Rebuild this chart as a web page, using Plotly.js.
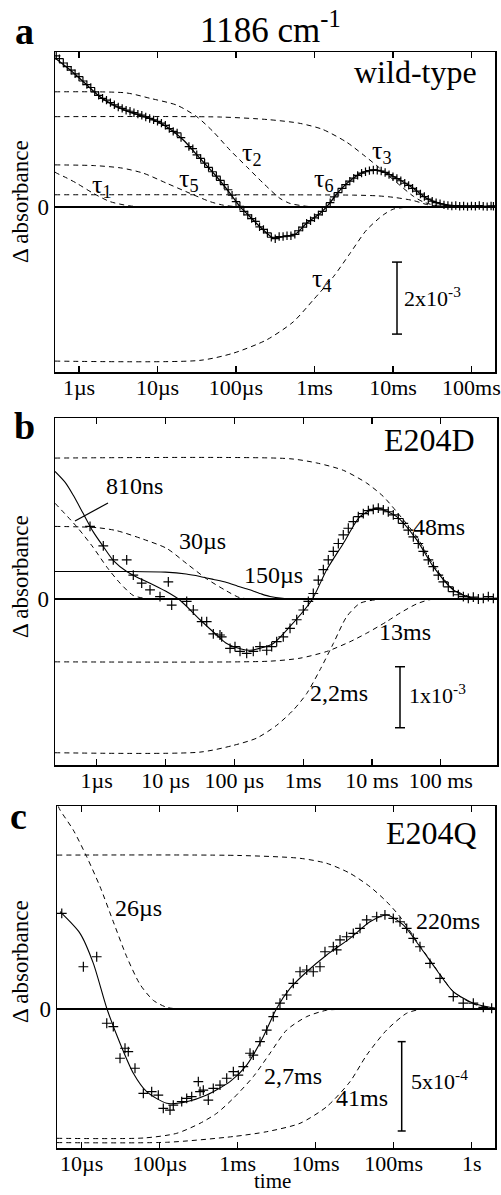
<!DOCTYPE html>
<html>
<head>
<meta charset="utf-8">
<script src="https://cdn.plot.ly/plotly-3.0.1.min.js"></script>
<style>html,body{margin:0;padding:0;background:#fff;}#chart{width:501px;height:1195px;}</style>
</head>
<body>
<div id="chart"></div>
<script>
// ---------- Panel a (wild-type), time as log10(seconds), values in 1e-3 ----------
const aTickVals = [1e-6, 1e-5, 1e-4, 1e-3, 1e-2, 1e-1];
const aTickText = ['1µs', '10µs', '100µs', '1ms', '10ms', '100ms'];
const aFitLogT = [-6.306,-6.115,-5.945,-5.732,-5.520,-5.308,-5.096,-4.883,-4.671,-4.459,-4.246,-4.076,-3.949,-3.822,-3.694,-3.58,-3.525,-3.397,-3.248,-3.1,-2.930,-2.824,-2.675,-2.506,-2.357,-2.229,-2.080,-1.911,-1.741,-1.571,-1.401,-1.189,-0.934,-0.70];
const aFitVal  = [4.14,3.81,3.48,3.06,2.79,2.60,2.46,2.23,1.86,1.35,0.84,0.38,0.01,-0.27,-0.55,-0.78,-0.86,-0.82,-0.76,-0.45,-0.18,0.06,0.47,0.80,0.98,1.03,0.94,0.75,0.52,0.24,0.10,0.03,0.02,0.02];
const aDataLogT = [-6.29,-6.25,-6.2,-6.15,-6.1,-6.05,-6.0,-5.95,-5.9,-5.85,-5.8,-5.75,-5.7,-5.65,-5.6,-5.55,-5.5,-5.45,-5.4,-5.35,-5.3,-5.25,-5.2,-5.15,-5.1,-5.05,-5.0,-4.95,-4.9,-4.85,-4.8,-4.75,-4.7,-4.6,-4.55,-4.5,-4.45,-4.4,-4.35,-4.3,-4.25,-4.2,-4.15,-4.1,-4.05,-4.0,-3.95,-3.9,-3.85,-3.8,-3.75,-3.7,-3.65,-3.6,-3.55,-3.5,-3.45,-3.4,-3.35,-3.3,-3.25,-3.2,-3.15,-3.1,-3.05,-3.0,-2.95,-2.9,-2.85,-2.8,-2.75,-2.7,-2.65,-2.6,-2.55,-2.5,-2.45,-2.4,-2.35,-2.3,-2.25,-2.2,-2.15,-2.1,-2.05,-2.0,-1.95,-1.9,-1.85,-1.8,-1.75,-1.7,-1.65,-1.6,-1.55,-1.5,-1.45,-1.4,-1.35,-1.3,-1.25,-1.2,-1.15,-1.1,-1.05,-1.0,-0.95,-0.9,-0.85,-0.8,-0.75,-0.72];
const aDataVal  = [4.20,4.12,4.00,3.90,3.80,3.70,3.62,3.50,3.40,3.32,3.20,3.10,3.02,2.97,2.90,2.84,2.78,2.74,2.69,2.66,2.62,2.58,2.55,2.50,2.46,2.42,2.38,2.33,2.27,2.18,2.10,2.06,1.93,1.68,1.62,1.45,1.35,1.22,1.10,0.98,0.86,0.74,0.62,0.48,0.33,0.15,0.02,-0.12,-0.22,-0.32,-0.40,-0.55,-0.62,-0.72,-0.84,-0.88,-0.82,-0.82,-0.80,-0.80,-0.76,-0.66,-0.56,-0.45,-0.38,-0.30,-0.22,-0.12,0.0,0.12,0.28,0.40,0.52,0.62,0.72,0.80,0.88,0.94,0.98,1.01,1.03,1.02,1.00,0.96,0.90,0.84,0.79,0.73,0.66,0.60,0.52,0.44,0.36,0.29,0.22,0.16,0.12,0.09,0.06,0.04,0.03,0.04,0.02,0.03,0.01,0.03,0.02,0.04,0.02,0.01,0.03,0.02];
const aTau1LogT = [-6.306,-6.284,-6.15,-6.03,-5.818,-5.605,-5.35,-5.1];
const aTau1Val  = [0.97,0.94,0.80,0.66,0.38,0.15,0.03,0];
const aTau5LogT = [-6.306,-5.8,-5.45,-5.181,-4.883,-4.586,-4.331,-4.16,-3.95];
const aTau5Val  = [1.17,1.15,1.08,0.94,0.66,0.38,0.15,0.05,0];
const aTau2LogT = [-6.306,-5.4,-5.096,-4.755,-4.5,-4.289,-4.076,-3.864,-3.652,-3.44,-3.312,-3.1,-2.9];
const aTau2Val  = [3.20,3.17,3.02,2.83,2.51,2.09,1.58,1.12,0.66,0.24,0.10,0.02,0];
const aTau3LogT = [-6.306,-4.2,-3.6,-3.2,-2.9,-2.59,-2.378,-2.207,-1.953,-1.741,-1.614,-1.45,-1.2];
const aTau3Val  = [2.51,2.50,2.43,2.33,2.16,1.80,1.45,1.15,0.68,0.30,0.14,0.04,0];
const aTau6LogT = [-6.306,-2.5,-2.2,-1.996,-1.741,-1.571,-1.4,-1.2];
const aTau6Val  = [0.34,0.33,0.31,0.27,0.18,0.07,0.01,0];
const aTau4LogT = [-6.306,-4.459,-4.034,-3.609,-3.270,-3.015,-2.760,-2.548,-2.337,-2.124,-1.996,-1.8,-1.6];
const aTau4Val  = [-4.28,-4.26,-4.06,-3.69,-3.19,-2.58,-1.94,-1.29,-0.64,-0.22,-0.06,0,0];

// ---------- Panel b (E204D), values in 1e-3 ----------
const bTickVals = [1e-6, 1e-5, 1e-4, 1e-3, 1e-2, 1e-1];
const bTickText = ['1µs', '10 µs', '100 µs', '1ms', '10 ms', '100 ms'];
const bFitLogT = [-6.606,-6.45,-6.34,-6.195,-6.05,-5.904,-5.75,-5.564,-5.40,-5.225,-5.0,-4.789,-4.498,-4.256,-4.11,-3.90,-3.776,-3.6,-3.433,-3.19,-2.875,-2.657,-2.416,-2.173,-1.93,-1.64,-1.349,-1.108,-0.817,-0.526,-0.186];
const bFitVal  = [2.09,1.90,1.70,1.40,1.10,0.86,0.62,0.45,0.35,0.26,0.13,-0.02,-0.34,-0.59,-0.73,-0.82,-0.84,-0.80,-0.73,-0.45,-0.02,0.48,0.91,1.35,1.49,1.35,0.97,0.53,0.15,0.01,0.01];
const bDataLogT = [-6.097,-5.904,-5.759,-5.564,-5.468,-5.346,-5.225,-5.080,-4.959,-4.910,-4.692,-4.596,-4.474,-4.401,-4.305,-4.208,-4.183,-4.062,-3.990,-3.917,-3.820,-3.724,-3.627,-3.529,-3.457,-3.384,-3.288,-3.190,-3.093,-2.997,-2.924,-2.852,-2.779,-2.706,-2.634,-2.561,-2.488,-2.416,-2.343,-2.270,-2.198,-2.125,-2.052,-1.980,-1.907,-1.834,-1.762,-1.689,-1.616,-1.544,-1.471,-1.398,-1.326,-1.253,-1.180,-1.107,-1.035,-0.962,-0.890,-0.817,-0.744,-0.671,-0.599,-0.526,-0.453,-0.381,-0.308,-0.235];
const bDataVal  = [1.19,0.87,0.64,0.64,0.39,0.26,0.15,0.04,0.28,-0.10,-0.04,-0.18,-0.37,-0.37,-0.57,-0.59,-0.62,-0.81,-0.78,-0.86,-0.89,-0.86,-0.78,-0.84,-0.78,-0.70,-0.62,-0.48,-0.34,-0.18,-0.04,0.09,0.31,0.48,0.64,0.78,0.91,1.05,1.16,1.27,1.35,1.40,1.45,1.47,1.49,1.46,1.43,1.38,1.32,1.24,1.13,1.02,0.91,0.78,0.64,0.53,0.39,0.28,0.20,0.12,0.07,0.04,0.01,0.03,0.0,0.01,0.04,0.01];
const b810LogT = [-6.606,-6.286,-6.054,-5.850,-5.661,-5.472,-5.3,-5.1];
const b810Val  = [1.57,1.18,0.85,0.52,0.26,0.06,0.01,0];
const b30LogT  = [-6.606,-6.0,-5.709,-5.323,-4.983,-4.692,-4.401,-4.11,-3.917,-3.7];
const b30Val   = [1.19,1.17,1.12,0.98,0.83,0.58,0.33,0.13,0.02,0];
const b150LogT = [-6.606,-5.5,-5.0,-4.7,-4.498,-4.3,-4.110,-3.95,-3.776,-3.6,-3.481,-3.3,-3.1];
const b150Val  = [0.45,0.45,0.44,0.41,0.37,0.32,0.27,0.21,0.15,0.08,0.04,0.01,0];
const b13LogT  = [-6.606,-3.5,-3.045,-2.657,-2.318,-2.076,-1.785,-1.591,-1.349,-1.155,-0.9];
const b13Val   = [-1.03,-1.02,-0.97,-0.86,-0.70,-0.56,-0.37,-0.23,-0.08,-0.01,0];
const b22LogT  = [-6.606,-4.5,-4.015,-3.674,-3.384,-3.142,-2.948,-2.754,-2.561,-2.367,-2.173,-1.93,-1.7];
const b22Val   = [-2.52,-2.51,-2.40,-2.28,-2.07,-1.82,-1.55,-1.16,-0.73,-0.29,-0.07,-0.01,0];
const b48LogT  = [-6.606,-3.2,-2.802,-2.416,-2.076,-1.834,-1.640,-1.349,-1.108,-0.817,-0.526,-0.186];
const b48Val   = [2.31,2.30,2.23,2.11,1.90,1.68,1.43,1.02,0.56,0.16,0.02,0];

// ---------- Panel c (E204Q), values in 1e-4 ----------
const cTickVals = [1e-5, 1e-4, 1e-3, 1e-2, 1e-1, 1];
const cTickText = ['10µs', '100µs', '1ms', '10ms', '100ms', '1s'];
const cFitLogT = [-5.278,-5.022,-4.851,-4.679,-4.509,-4.338,-4.167,-3.910,-3.654,-3.397,-3.099,-2.885,-2.672,-2.5,-2.329,-2.115,-1.859,-1.560,-1.304,-1.090,-0.877,-0.663,-0.449,-0.236,0.021,0.299];
const cFitVal  = [5.46,4.25,2.57,0.06,-1.90,-3.58,-4.61,-5.26,-5.17,-4.80,-4.05,-3.12,-1.53,0.06,1.17,2.10,3.04,3.97,4.90,5.28,4.72,3.50,2.20,0.99,0.34,0.06];
const cDataLogT = [-5.256,-4.979,-4.808,-4.679,-4.595,-4.509,-4.445,-4.403,-4.317,-4.210,-4.103,-4.018,-3.954,-3.868,-3.826,-3.718,-3.654,-3.590,-3.505,-3.483,-3.441,-3.377,-3.313,-3.227,-3.141,-3.056,-2.992,-2.928,-2.842,-2.800,-2.714,-2.628,-2.544,-2.458,-2.372,-2.287,-2.201,-2.115,-2.031,-1.945,-1.881,-1.774,-1.731,-1.688,-1.603,-1.518,-1.432,-1.346,-1.218,-1.112,-1.005,-0.919,-0.833,-0.749,-0.663,-0.535,-0.406,-0.236,-0.108,0.021,0.149,0.256];
const cDataVal  = [5.37,2.38,2.94,-0.78,-0.97,-2.74,-2.18,-2.37,-3.30,-4.70,-4.61,-4.80,-5.54,-5.64,-5.36,-5.17,-4.98,-4.89,-4.05,-4.61,-4.52,-5.08,-4.42,-4.24,-3.86,-3.49,-3.68,-3.21,-2.46,-2.56,-1.81,-1.16,-0.41,0.34,0.80,1.45,2.10,2.20,2.10,2.38,3.22,3.50,3.32,3.88,4.06,4.25,4.53,5.00,5.18,5.28,5.09,4.90,4.53,3.97,3.50,2.57,1.73,0.71,0.34,0.34,0.11,0.06];
const c26LogT  = [-5.30,-5.278,-5.108,-4.936,-4.765,-4.595,-4.423,-4.253,-4.082,-3.910,-3.74,-3.5];
const c26Val   = [11.35,11.15,10.03,8.54,6.86,4.9,2.94,1.40,0.50,0.11,0.01,0];
const c220LogT = [-5.317,-3.0,-2.201,-1.859,-1.56,-1.304,-1.09,-0.919,-0.663,-0.449,-0.236,0.021,0.299];
const c220Val  = [8.63,8.61,8.45,8.17,7.61,6.86,6.02,5.18,3.55,2.22,1.0,0.3,0.05];
const c27LogT  = [-5.317,-4.2,-3.782,-3.483,-3.269,-3.056,-2.8,-2.586,-2.372,-2.115,-1.859,-1.645,-1.4];
const c27Val   = [-7.22,-7.20,-6.94,-6.38,-5.82,-4.98,-3.77,-2.46,-1.16,-0.41,-0.05,0,0];
const c41LogT  = [-5.317,-3.9,-3.056,-2.628,-2.201,-1.859,-1.56,-1.346,-1.09,-0.833,-0.663,-0.45];
const c41Val   = [-7.46,-7.44,-7.12,-6.85,-6.38,-5.45,-4.05,-2.56,-1.16,-0.22,-0.01,0];

// ---------- helpers ----------
const F = 'Liberation Serif, Times New Roman, serif';
const W = 501, H = 1195;
const toT = lg => lg.map(v => Math.pow(10, v));
function curve(lg, val, xa, ya, dash, width) {
  return {x: toT(lg), y: val, xaxis: xa, yaxis: ya, mode: 'lines', hoverinfo: 'skip',
    line: {color: 'black', width: width || 1, dash: dash || 'solid', shape: 'spline', smoothing: 0.7}};
}
function pts(lg, val, xa, ya, size) {
  return {x: toT(lg), y: val, xaxis: xa, yaxis: ya, mode: 'markers', hoverinfo: 'skip',
    marker: {symbol: 'cross-thin', size: size, color: 'black', line: {color: 'black', width: 1.2}}};
}
const D = '5px,4px';
const traces = [
  curve(aTau1LogT, aTau1Val, 'x', 'y', D), curve(aTau5LogT, aTau5Val, 'x', 'y', D),
  curve(aTau2LogT, aTau2Val, 'x', 'y', D), curve(aTau3LogT, aTau3Val, 'x', 'y', D),
  curve(aTau6LogT, aTau6Val, 'x', 'y', D), curve(aTau4LogT, aTau4Val, 'x', 'y', D),
  curve(aFitLogT, aFitVal, 'x', 'y', 'solid', 1.3), pts(aDataLogT, aDataVal, 'x', 'y', 6),

  curve(b810LogT, b810Val, 'x2', 'y2', D), curve(b30LogT, b30Val, 'x2', 'y2', D),
  curve(b150LogT, b150Val, 'x2', 'y2', 'solid', 1.1), curve(b13LogT, b13Val, 'x2', 'y2', D),
  curve(b22LogT, b22Val, 'x2', 'y2', D), curve(b48LogT, b48Val, 'x2', 'y2', D),
  curve(bFitLogT, bFitVal, 'x2', 'y2', 'solid', 1.1), pts(bDataLogT, bDataVal, 'x2', 'y2', 7),

  curve(c26LogT, c26Val, 'x3', 'y3', D), curve(c220LogT, c220Val, 'x3', 'y3', D),
  curve(c27LogT, c27Val, 'x3', 'y3', D), curve(c41LogT, c41Val, 'x3', 'y3', D),
  curve(cFitLogT, cFitVal, 'x3', 'y3', 'solid', 1.1), pts(cDataLogT, cDataVal, 'x3', 'y3', 7)
];

function axX(range, domain, anchor, tv, tt) {
  return {type: 'log', range: range, domain: domain, anchor: anchor, tickvals: tv, ticktext: tt,
    ticks: 'inside', ticklen: 6, tickwidth: 1.2, tickcolor: 'black', mirror: 'allticks',
    showline: true, linecolor: 'black', linewidth: 1.5, showgrid: false, zeroline: false,
    ticklabeloverflow: 'allow', ticklabelstandoff: -5,
    tickfont: {family: F, size: 22, color: 'black'}, fixedrange: true};
}
function axY(range, domain, anchor) {
  return {range: range, domain: domain, anchor: anchor, tickvals: [0], ticktext: ['0'], ticks: '',
    showline: true, mirror: true, linecolor: 'black', linewidth: 1.5, showgrid: false,
    zeroline: true, zerolinecolor: 'black', zerolinewidth: 1.6,
    tickfont: {family: F, size: 23, color: 'black'}, fixedrange: true};
}
function ann(text, px, py, size, extra) {
  return Object.assign({text: text, x: px / W, y: 1 - py / H, xref: 'paper', yref: 'paper',
    xanchor: 'center', yanchor: 'middle', showarrow: false, borderpad: 0,
    font: {family: F, size: size, color: 'black'}}, extra || {});
}
function vbar(px, y0, y1, yref, cap) {
  return [
    {type: 'line', xref: 'paper', yref: yref, x0: px / W, x1: px / W, y0: y0, y1: y1, line: {color: 'black', width: 1.5}},
    {type: 'line', xref: 'paper', yref: yref, x0: (px - cap) / W, x1: (px + cap) / W, y0: y0, y1: y0, line: {color: 'black', width: 1.5}},
    {type: 'line', xref: 'paper', yref: yref, x0: (px - cap) / W, x1: (px + cap) / W, y0: y1, y1: y1, line: {color: 'black', width: 1.5}}
  ];
}

const layout = {
  width: W, height: H, margin: {l: 0, r: 0, t: 0, b: 0},
  paper_bgcolor: 'white', plot_bgcolor: 'white', showlegend: false,
  font: {family: F, color: 'black'},
  xaxis:  axX([-6.306, -0.70], [55 / W, 495 / W], 'y', aTickVals, aTickText),
  yaxis:  axY([-4.583, 4.306], [1 - 372 / H, 1 - 52 / H], 'x'),
  xaxis2: axX([-6.606, -0.182], [55 / W, 497 / W], 'y2', bTickVals, bTickText),
  yaxis2: axY([-2.721, 2.967], [1 - 765 / H, 1 - 418 / H], 'x2'),
  xaxis3: axX([-5.317, 0.299], [57 / W, 495 / W], 'y3', cTickVals, cTickText),
  yaxis3: axY([-7.762, 11.377], [1 - 1148 / H, 1 - 806 / H], 'x3'),
  shapes: [].concat(
    vbar(397, -1.53, -3.53, 'y', 5),
    vbar(400, -1.11, -2.11, 'y2', 5),
    vbar(401.7, -1.81, -6.81, 'y3', 4),
    [{type: 'line', xref: 'paper', yref: 'paper', x0: 75 / W, y0: 1 - 521 / H, x1: 108 / W, y1: 1 - 503 / H, line: {color: 'black', width: 1.2}}]
  ),
  annotations: [
    ann('1186 cm<sup>-1</sup>', 270, 27, 35),
    ann('<b>a</b>', 24, 31, 38),
    ann('wild-type', 415, 72, 32),
    ann('Δ absorbance', 20, 202, 23, {textangle: -90}),
    ann('τ<sub>1</sub>', 102, 186, 26),
    ann('τ<sub>5</sub>', 189, 180, 26),
    ann('τ<sub>2</sub>', 252, 154, 26),
    ann('τ<sub>3</sub>', 382, 152, 26),
    ann('τ<sub>6</sub>', 324, 180, 26),
    ann('τ<sub>4</sub>', 322, 280, 26),
    ann('2x10<sup>-3</sup>', 432, 297, 22),

    ann('<b>b</b>', 24, 426, 38),
    ann('E204D', 429, 440, 32),
    ann('Δ absorbance', 20, 577, 23, {textangle: -90}),
    ann('810ns', 134, 486, 24),
    ann('30µs', 202, 541, 24),
    ann('150µs', 273, 575, 24),
    ann('48ms', 439, 527, 24),
    ann('13ms', 405, 632, 24),
    ann('2,2ms', 339, 693, 24),
    ann('1x10<sup>-3</sup>', 437, 694, 22),

    ann('<b>c</b>', 18, 816, 38),
    ann('E204Q', 431, 833, 32),
    ann('Δ absorbance', 20, 962, 23, {textangle: -90}),
    ann('26µs', 138, 908, 24),
    ann('220ms', 448, 921, 24),
    ann('2,7ms', 293, 1076, 24),
    ann('41ms', 362, 1098, 24),
    ann('5x10<sup>-4</sup>', 439, 1080, 22),
    ann('time', 272, 1181, 21)
  ]
};

Plotly.newPlot('chart', traces, layout, {staticPlot: true, displayModeBar: false});
</script>
</body>
</html>
